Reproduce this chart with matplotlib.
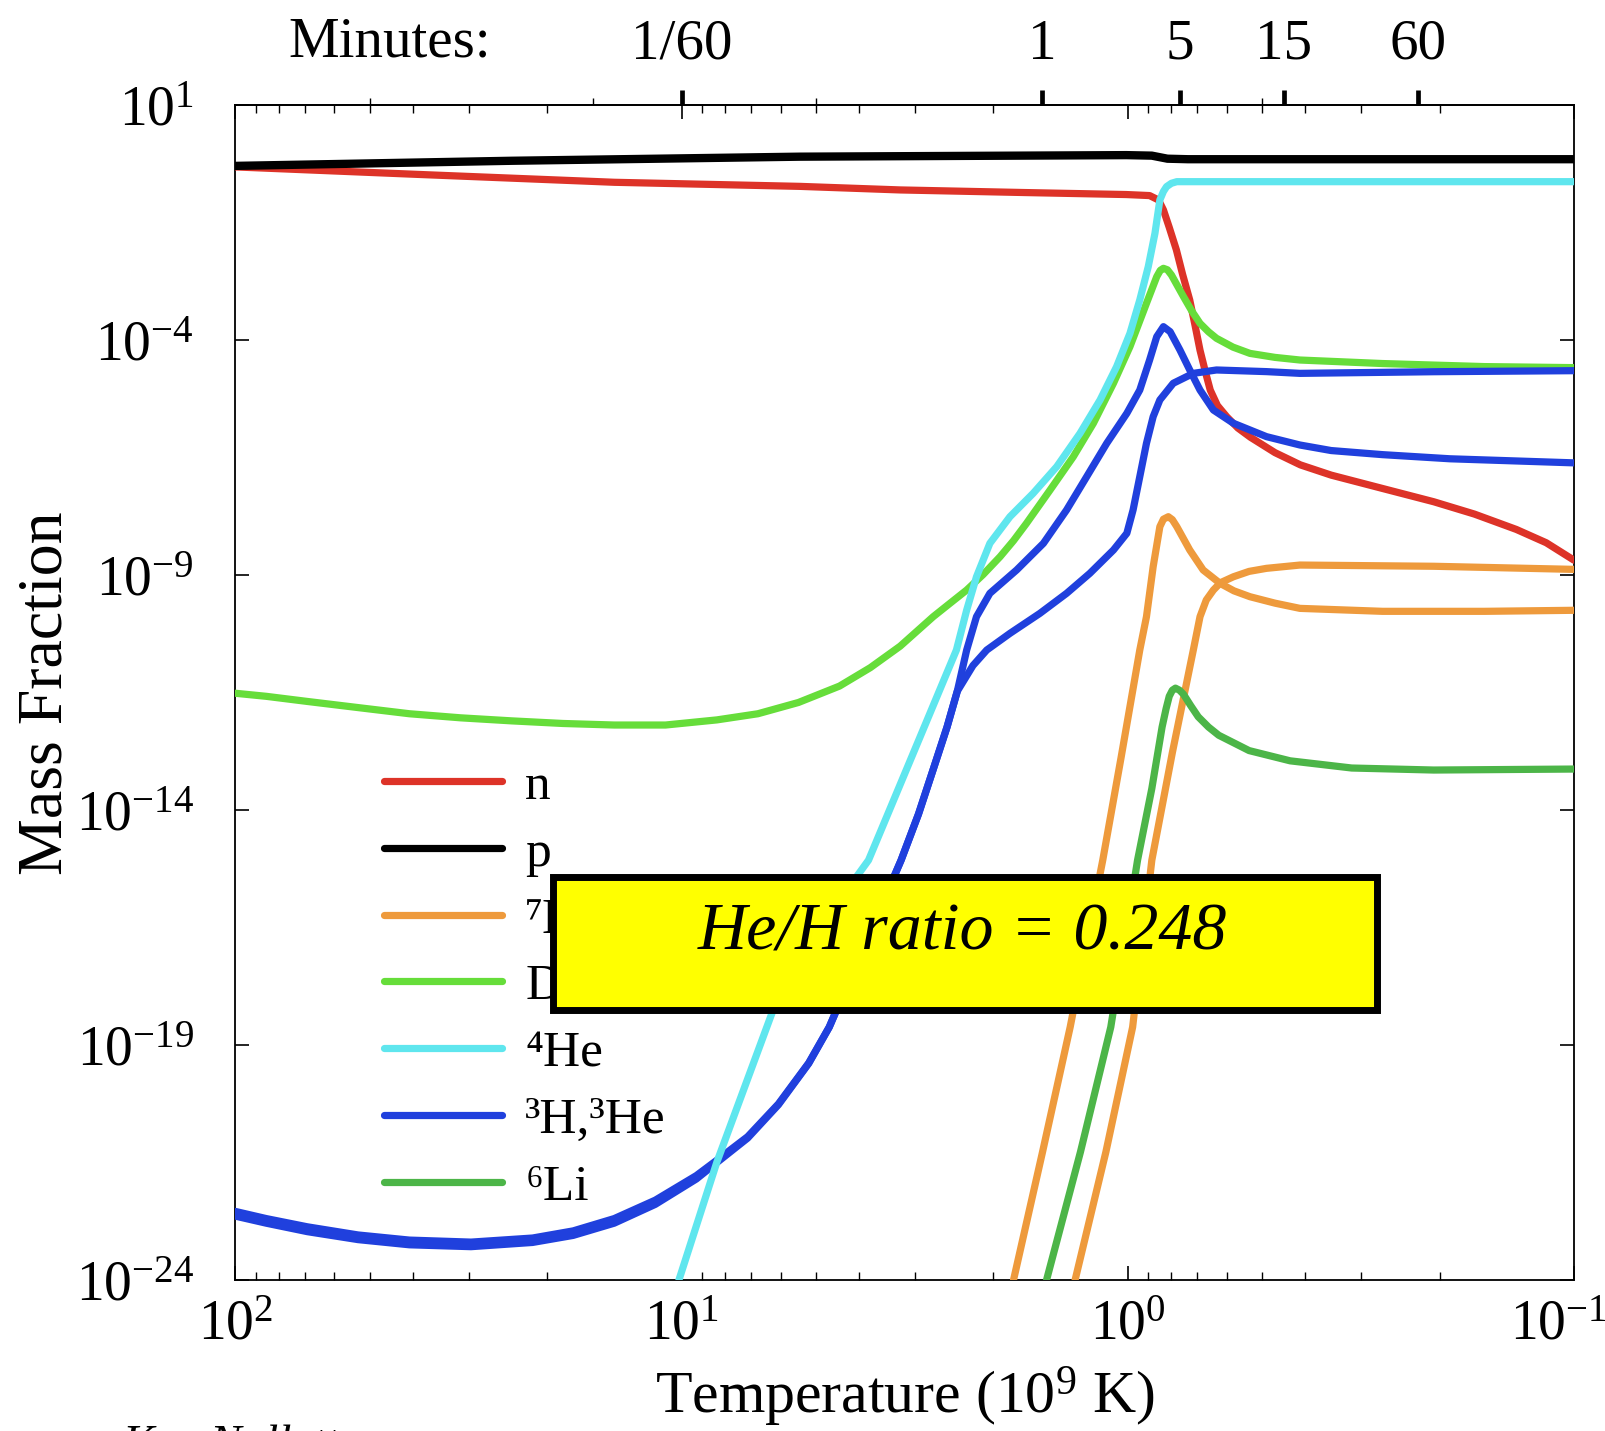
import numpy as np
import matplotlib
matplotlib.use("Agg")
import matplotlib.pyplot as plt
from matplotlib.ticker import FixedLocator, NullLocator, NullFormatter, LogLocator
from matplotlib.patches import Rectangle
from matplotlib.transforms import ScaledTranslation

plt.rcParams['font.family'] = ['Liberation Serif', 'DejaVu Serif']
plt.rcParams['mathtext.fontset'] = 'custom'
plt.rcParams['mathtext.rm'] = 'Liberation Serif'
plt.rcParams['mathtext.it'] = 'Liberation Serif:italic'
plt.rcParams['mathtext.bf'] = 'Liberation Serif:bold'

# abundances: log10 T9 and log10 mass fraction
p_logT = [2.0, 1.380, 0.735, 0.003, -0.054, -0.089, -0.135, -1.0]
p_logX = [-0.286, -0.177, -0.090, -0.057, -0.068, -0.133, -0.144, -0.144]

n_logT = [2.0, 1.610, 1.151, 0.735, 0.510, 0.233, 0.003, -0.049, -0.069, -0.080, -0.093,
          -0.109, -0.123, -0.139, -0.151, -0.162, -0.174, -0.185, -0.201, -0.222, -0.247,
          -0.275, -0.330, -0.387, -0.456, -0.571, -0.686, -0.777, -0.871, -0.938, -1.0]
n_logX = [-0.308, -0.460, -0.635, -0.722, -0.798, -0.853, -0.896, -0.918, -1.012, -1.223, -1.594,
          -2.073, -2.596, -3.141, -3.686, -4.209, -4.667, -5.059, -5.386, -5.626, -5.866,
          -6.062, -6.389, -6.650, -6.868, -7.152, -7.435, -7.697, -8.024, -8.307, -8.677]

he4_logT = [1.006, 0.921, 0.809, 0.764, 0.581, 0.384, 0.361, 0.339, 0.309, 0.264, 0.212, 0.159,
            0.107, 0.062, 0.025, -0.005, -0.027, -0.046, -0.061, -0.072, -0.080, -0.087,
            -0.098, -0.110, -1.0]
he4_logX = [-24.0, -21.493, -18.616, -17.461, -15.064, -10.591, -9.741, -9.031, -8.320, -7.753,
            -7.256, -6.687, -5.979, -5.268, -4.560, -3.850, -3.139, -2.431, -1.722, -1.012,
            -0.831, -0.728, -0.656, -0.622, -0.622]

d_logT = [2.0, 1.931, 1.839, 1.725, 1.610, 1.495, 1.380, 1.266, 1.151, 1.036, 0.921, 0.829,
          0.738, 0.646, 0.577, 0.510, 0.474, 0.436, 0.398, 0.361, 0.324, 0.286, 0.256, 0.227,
          0.174, 0.122, 0.077, 0.032, -0.005, -0.042, -0.065, -0.073, -0.080, -0.089, -0.098,
          -0.125, -0.144, -0.162, -0.181, -0.199, -0.236, -0.274, -0.330, -0.386, -0.571,
          -0.800, -1.0]
d_logX = [-11.511, -11.576, -11.685, -11.816, -11.947, -12.034, -12.099, -12.154, -12.187,
          -12.187, -12.078, -11.947, -11.707, -11.358, -10.966, -10.508, -10.203, -9.881,
          -9.593, -9.314, -8.983, -8.603, -8.263, -7.895, -7.184, -6.476, -5.765, -4.913,
          -4.133, -3.211, -2.644, -2.509, -2.466, -2.498, -2.609, -3.069, -3.381, -3.638,
          -3.817, -3.956, -4.144, -4.277, -4.362, -4.418, -4.493, -4.558, -4.580]

# 3H and 3He share the same track at high temperature
h3_logT = [2.0, 1.931, 1.839, 1.725, 1.610, 1.472, 1.334, 1.243, 1.151, 1.059, 0.967, 0.921,
           0.852, 0.783, 0.715, 0.669, 0.508, 0.469, 0.435, 0.405, 0.382, 0.361, 0.339, 0.309,
           0.249, 0.189, 0.137, 0.092, 0.047, 0.002, -0.027, -0.049, -0.065, -0.080, -0.095,
           -0.117, -0.139, -0.162, -0.192, -0.237, -0.311, -0.386, -0.456, -0.571, -0.722, -1.0]
h3_logX = [-22.540, -22.692, -22.867, -23.041, -23.150, -23.193, -23.106, -22.954, -22.692,
           -22.300, -21.777, -21.450, -20.949, -20.251, -19.379, -18.616, -15.064, -14.083,
           -13.102, -12.230, -11.467, -10.591, -9.881, -9.384, -8.887, -8.320, -7.609, -6.901,
           -6.190, -5.552, -5.057, -4.418, -3.921, -3.708, -3.815, -4.205, -4.630, -5.057,
           -5.482, -5.765, -6.049, -6.227, -6.345, -6.432, -6.520, -6.607]

he3_logT = [2.0, 1.931, 1.839, 1.725, 1.610, 1.472, 1.334, 1.243, 1.151, 1.059, 0.967, 0.921,
            0.852, 0.783, 0.715, 0.669, 0.508, 0.469, 0.435, 0.405, 0.382, 0.347, 0.316, 0.264,
            0.197, 0.137, 0.085, 0.032, 0.002, -0.012, -0.027, -0.042, -0.057, -0.072, -0.102,
            -0.147, -0.199, -0.311, -0.386, -0.686, -1.0]
he3_logX = [-22.640, -22.790, -22.970, -23.140, -23.250, -23.290, -23.200, -23.050, -22.790,
            -22.390, -21.850, -21.500, -20.980, -20.270, -19.390, -18.616, -15.064, -14.083,
            -13.102, -12.230, -11.467, -10.922, -10.591, -10.236, -9.811, -9.384, -8.959,
            -8.462, -8.106, -7.609, -6.901, -6.190, -5.624, -5.268, -4.913, -4.702, -4.630,
            -4.665, -4.702, -4.667, -4.645]

be7_logT = [0.256, 0.191, 0.129, 0.056, 0.015, -0.027, -0.042, -0.057, -0.072, -0.080, -0.091,
            -0.100, -0.110, -0.139, -0.169, -0.207, -0.238, -0.274, -0.330, -0.386, -0.571,
            -0.800, -1.0]
be7_logX = [-24.0, -21.275, -18.616, -15.064, -12.884, -10.591, -9.881, -8.817, -7.965, -7.806,
            -7.753, -7.816, -7.965, -8.462, -8.887, -9.172, -9.331, -9.456, -9.593, -9.704,
            -9.767, -9.767, -9.745]

li7_logT = [0.118, 0.049, -0.011, -0.054, -0.100, -0.147, -0.162, -0.176, -0.192, -0.208,
            -0.237, -0.272, -0.311, -0.386, -0.686, -1.0]
li7_logX = [-24.0, -21.275, -18.616, -15.064, -12.775, -10.591, -9.881, -9.527, -9.314,
            -9.157, -9.031, -8.917, -8.852, -8.782, -8.808, -8.874]

li6_logT = [0.182, 0.106, 0.038, -0.022, -0.054, -0.077, -0.086, -0.093, -0.100, -0.107,
            -0.116, -0.125, -0.141, -0.158, -0.181, -0.204, -0.272, -0.364, -0.502, -0.686, -1.0]
li6_logX = [-24.0, -21.275, -18.616, -15.064, -13.538, -12.230, -11.838, -11.576, -11.446,
            -11.402, -11.446, -11.533, -11.772, -12.012, -12.230, -12.405, -12.731, -12.949,
            -13.102, -13.145, -13.124]

# top axis: elapsed time in minutes at these temperatures
minute_T = [10.0, 1.553, 0.765, 0.447, 0.223]
minute_labels = ['1/60', '1', '5', '15', '60']
time_minor_T = [50.0, 15.8, 5.0, 0.5]

x_major = [100, 10, 1, 0.1]
x_labels = [r'$\mathregular{10^{2}}$', r'$\mathregular{10^{1}}$',
            r'$\mathregular{10^{0}}$', r'$\mathregular{10^{-1}}$']
y_major = [1e1, 1e-4, 1e-9, 1e-14, 1e-19, 1e-24]
y_labels = [r'$\mathregular{10^{1}}$', r'$\mathregular{10^{-4}}$', r'$\mathregular{10^{-9}}$',
            r'$\mathregular{10^{-14}}$', r'$\mathregular{10^{-19}}$', r'$\mathregular{10^{-24}}$']

RED = '#dd3328'
ORANGE = '#ee9a3c'
LGREEN = '#66dd3a'
CYAN = '#5fe6ee'
BLUE = '#2040dd'
DGREEN = '#4cb548'
LW = 5.2


def pw(a):
    return 10.0 ** np.asarray(a)


fig = plt.figure(figsize=(16.06, 14.31), dpi=100)
ax = fig.add_axes([0.1466, 0.1055, 0.8334, 0.8208])
ax.set_xscale('log')
ax.set_yscale('log')
ax.set_xlim(100, 0.1)
ax.set_ylim(1e-24, 10)

kw = dict(lw=LW, zorder=3, solid_joinstyle='round', solid_capstyle='round')
l_n, = ax.plot(pw(n_logT), pw(n_logX), color=RED, label='n', **kw)
l_p, = ax.plot(pw(p_logT), pw(p_logX), color='black', label='p', **kw)
l_p.set_linewidth(LW + 0.8)
ax.plot(pw(be7_logT), pw(be7_logX), color=ORANGE, **kw)
l_li7, = ax.plot(pw(li7_logT), pw(li7_logX), color=ORANGE, label='\u2077Li', **kw)
l_d, = ax.plot(pw(d_logT), pw(d_logX), color=LGREEN, label='D', **kw)
l_li6, = ax.plot(pw(li6_logT), pw(li6_logX), color=DGREEN, label='\u2076Li', **kw)
l_h3, = ax.plot(pw(h3_logT), pw(h3_logX), color=BLUE, label='\u00b3H,\u00b3He', **kw)
ax.plot(pw(he3_logT), pw(he3_logX), color=BLUE, **kw)
l_he4, = ax.plot(pw(he4_logT), pw(he4_logX), color=CYAN, label='\u2074He', **kw)

ax.set_xticks(x_major, x_labels)
ax.xaxis.set_minor_locator(LogLocator(base=10, subs=np.arange(2, 10)))
ax.xaxis.set_minor_formatter(NullFormatter())
ax.set_yticks(y_major, y_labels)
ax.yaxis.set_minor_locator(NullLocator())
ax.tick_params(which='both', direction='in', top=True, right=True)
ax.tick_params(which='major', length=10, width=1.2, labelsize=40)
ax.tick_params(which='minor', length=6, width=1.0)
ax.tick_params(axis='x', which='major', pad=14)
ax.tick_params(axis='y', which='major', pad=30)
for s in ax.spines.values():
    s.set_linewidth(1.3)

# keep the last temperature label inside the figure, as in the original
for lbl in ax.get_xticklabels():
    if '-1' in lbl.get_text():
        lbl.set_transform(lbl.get_transform() +
                          ScaledTranslation(-0.15, 0, fig.dpi_scale_trans))

secax = ax.secondary_xaxis('top')
secax.set_ticks(minute_T, labels=minute_labels)
secax.xaxis.set_minor_locator(FixedLocator(time_minor_T))
secax.xaxis.set_minor_formatter(NullFormatter())
secax.tick_params(which='major', direction='out', length=11, width=3.4, labelsize=41, pad=14)
secax.tick_params(which='minor', direction='out', length=5, width=1.0)
secax.spines['top'].set_linewidth(1.3)
ax.text(0.1155, 1.042, 'Minutes:', transform=ax.transAxes, ha='center', va='baseline',
        fontsize=41)

ax.set_xlabel('Temperature (10$^{9}$ K)', fontsize=43)
ax.xaxis.set_label_coords(0.5, -0.072)
ax.set_ylabel('Mass Fraction', fontsize=46)
ax.yaxis.set_label_coords(-0.1194, 0.5)

handles = [l_n, l_p, l_li7, l_d, l_he4, l_h3, l_li6]
leg = ax.legend(handles=handles, loc='upper left', bbox_to_anchor=(0.111, 0.44),
                frameon=False, fontsize=37, handlelength=2.3, handletextpad=0.45,
                labelspacing=0.385, borderpad=0, borderaxespad=0)
for h in leg.get_lines():
    h.set_linewidth(LW)

ax.add_patch(Rectangle((0.2376, 0.2295), 0.6152, 0.114, transform=ax.transAxes,
                       facecolor='#ffff00', edgecolor='black', lw=5, zorder=10, clip_on=False))
ax.text(0.5432, 0.2818, 'He/H ratio = 0.248', transform=ax.transAxes, ha='center',
        va='baseline', fontsize=49, style='italic', zorder=11)

fig.text(0.0766, -0.018, 'Ken Nollett', fontsize=34, style='italic', ha='left', va='baseline')

fig.savefig('out.png', dpi=100, facecolor='white')
